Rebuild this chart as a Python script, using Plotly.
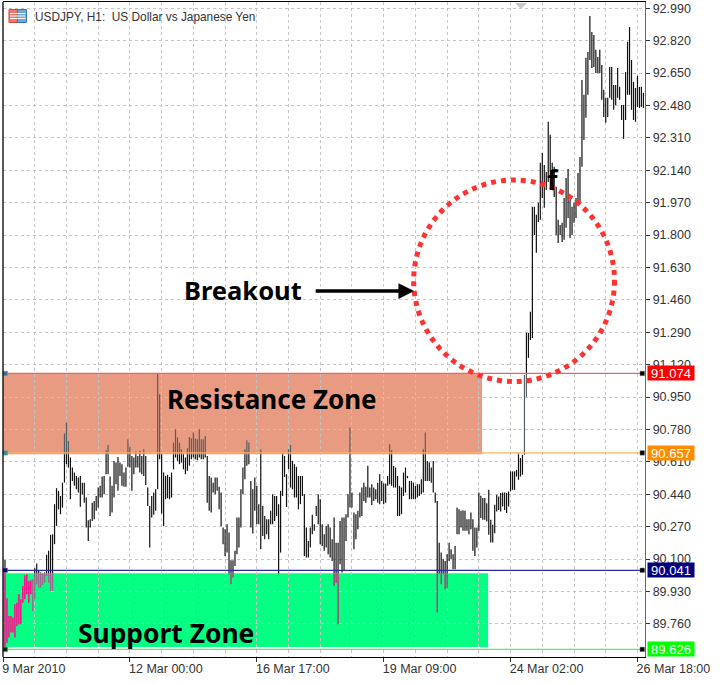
import plotly.graph_objects as go

SYMBOL_TEXT = "USDJPY, H1:\u00a0\u00a0US Dollar vs Japanese Yen"
X_TICK_POS = [0, 64, 128, 192, 256, 320]
X_TICK_TEXT = ["9 Mar 2010", "12 Mar 00:00", "16 Mar 17:00", "19 Mar 09:00", "24 Mar 02:00", "26 Mar 18:00"]
X_GRID_POS = list(range(0, 324, 16))
Y_TICKS = [92.99, 92.82, 92.65, 92.48, 92.31, 92.14, 91.97, 91.80, 91.63, 91.46,
           91.29, 91.12, 90.95, 90.78, 90.61, 90.44, 90.27, 90.10, 89.93, 89.76]

LEVELS = [91.074, 90.657, 90.041, 89.626]
LEVEL_TEXT = ["91.074", "90.657", "90.041", "89.626"]
LEVEL_COLORS = ["#ff0000", "#ff8c00", "#000080", "#00ff00"]
LEVEL_LINES = ["#e8636b", "#ffb060", "#2a2a9c", "#55f055"]
LEFT_MARK = ["#3a6f9c", "#2f8f8f", "#000080", "#003000"]

HIGHS = [
 90.095,89.894,89.801,89.801,89.793,89.863,89.871,89.915,89.889,89.959,
 90.015,90.02,89.985,89.989,89.994,90.052,90.076,90.038,90.029,90.024,
 90.029,90.122,90.143,90.227,90.23,90.388,90.472,90.458,90.431,90.501,
 90.759,90.816,90.72,90.633,90.58,90.554,90.536,90.528,90.536,90.501,
 90.501,90.423,90.304,90.309,90.396,90.405,90.431,90.475,90.484,90.533,
 90.536,90.671,90.699,90.533,90.484,90.615,90.606,90.636,90.606,90.598,
 90.554,90.58,90.729,90.689,90.641,90.633,90.664,90.641,90.668,90.641,
 90.676,90.641,90.475,90.379,90.431,90.449,90.466,91.074,90.965,90.65,
 90.554,90.536,90.542,90.531,90.554,90.711,90.781,90.738,90.711,90.676,
 90.65,90.633,90.682,90.741,90.734,90.764,90.734,90.729,90.781,90.729,
 90.729,90.746,90.641,90.536,90.528,90.501,90.528,90.528,90.479,90.449,
 90.265,90.256,90.283,90.239,90.094,90.094,90.143,90.318,90.318,90.466,
 90.58,90.676,90.724,90.711,90.51,90.466,90.528,90.484,90.388,90.676,
 90.379,90.326,90.309,90.309,90.353,90.44,90.431,90.431,90.388,90.458,
 90.654,90.641,90.545,90.676,90.699,90.615,90.598,90.584,90.536,90.536,
 90.536,90.44,90.265,90.195,90.265,90.332,90.283,90.379,90.44,90.414,
 90.283,90.23,90.274,90.283,90.265,90.204,90.318,90.186,90.186,90.3,
 90.318,90.318,90.335,90.44,90.79,90.449,90.344,90.335,90.353,90.449,
 90.475,90.501,90.479,90.589,90.475,90.493,90.475,90.466,90.501,90.545,
 90.51,90.496,90.496,90.536,90.703,90.671,90.589,90.58,90.536,90.484,
 90.475,90.554,90.58,90.536,90.51,90.51,90.501,90.484,90.493,90.493,
 90.519,90.676,90.764,90.615,90.606,90.58,90.615,90.449,90.405,90.186,
 90.134,90.099,90.09,90.125,90.186,90.151,90.125,90.169,90.37,90.361,
 90.353,90.356,90.353,90.309,90.309,90.344,90.309,90.265,90.265,90.449,
 90.432,90.42,90.42,90.393,90.463,90.306,90.28,90.385,90.437,90.428,
 90.446,90.449,90.449,90.446,90.455,90.56,90.56,90.56,90.568,90.656,
 90.63,90.647,91.066,91.287,91.287,91.397,91.948,91.948,91.906,91.969,
 92.179,92.231,92.168,92.131,92.394,92.326,92.179,92.158,92.053,91.88,
 91.853,91.864,91.995,92.1,92.147,91.985,91.948,91.969,91.995,92.126,
 92.21,92.614,92.536,92.73,92.761,92.95,92.866,92.85,92.772,92.735,
 92.772,92.693,92.562,92.52,92.52,92.682,92.682,92.588,92.588,92.677,
 92.578,92.483,92.483,92.656,92.814,92.892,92.719,92.604,92.572,92.635,
 92.578,92.578,92.546,
]
LOWS = [
 89.635,89.661,89.688,89.714,89.714,89.688,89.749,89.758,89.758,89.871,
 89.889,89.915,89.871,89.915,89.828,89.889,89.968,89.95,89.95,89.964,
 89.976,90.011,89.976,89.933,89.933,90.178,90.274,90.361,90.335,90.37,
 90.501,90.598,90.58,90.414,90.51,90.484,90.466,90.449,90.375,90.44,
 90.396,90.265,90.195,90.265,90.3,90.309,90.353,90.37,90.423,90.423,
 90.44,90.545,90.545,90.326,90.344,90.423,90.493,90.458,90.536,90.484,
 90.479,90.479,90.584,90.58,90.458,90.545,90.58,90.58,90.554,90.545,
 90.536,90.489,90.379,90.16,90.318,90.332,90.353,90.466,90.624,90.339,
 90.274,90.414,90.419,90.414,90.423,90.571,90.633,90.615,90.598,90.606,
 90.571,90.545,90.563,90.589,90.624,90.633,90.624,90.619,90.633,90.624,
 90.624,90.633,90.396,90.353,90.344,90.449,90.44,90.458,90.361,90.274,
 90.178,90.116,90.134,90.02,89.968,90.003,90.064,90.125,90.16,90.265,
 90.44,90.519,90.589,90.598,90.265,90.234,90.353,90.283,90.283,90.151,
 90.221,90.204,90.23,90.204,90.283,90.283,90.3,90.326,90.02,90.134,
 90.431,90.531,90.373,90.571,90.475,90.466,90.423,90.423,90.361,90.388,
 90.431,90.116,90.108,90.108,90.16,90.23,90.248,90.326,90.283,90.178,
 90.169,90.143,90.16,90.125,90.108,90.09,89.959,89.976,89.758,90.073,
 90.029,90.038,90.195,90.318,90.37,90.37,90.151,90.204,90.256,90.318,
 90.326,90.405,90.396,90.423,90.423,90.384,90.405,90.414,90.396,90.388,
 90.405,90.388,90.396,90.484,90.493,90.484,90.475,90.475,90.326,90.326,
 90.335,90.431,90.449,90.524,90.414,90.414,90.414,90.414,90.423,90.431,
 90.44,90.449,90.51,90.51,90.51,90.501,90.449,90.396,89.819,90.02,
 89.968,90.02,89.941,89.95,90.09,90.099,90.046,90.046,90.23,90.23,
 90.265,90.248,90.248,90.248,90.23,90.256,90.143,90.116,90.16,90.248,
 90.315,90.306,90.306,90.297,90.227,90.187,90.187,90.236,90.35,90.358,
 90.35,90.376,90.358,90.341,90.376,90.455,90.463,90.463,90.533,90.516,
 90.533,90.542,90.647,90.951,91.156,91.25,91.26,91.801,91.707,91.869,
 91.88,91.995,91.943,92.037,92.079,92.131,92.037,92.0,91.801,91.759,
 91.801,91.764,91.775,91.838,91.89,91.785,91.801,91.864,91.89,91.969,
 91.974,92.158,92.299,92.415,92.536,92.719,92.677,92.682,92.651,92.651,
 92.651,92.51,92.42,92.389,92.42,92.52,92.51,92.457,92.483,92.52,
 92.51,92.404,92.305,92.404,92.536,92.536,92.457,92.404,92.394,92.473,
 92.467,92.473,92.467,
]

L, R, T, B = 2.5, 645.0, 2.0, 657.0
X_MIN, X_MAX = 0.0, 323.8
Y_MIN, Y_MAX = 89.586, 93.023
def xp(px): return (px - L) / (R - L)
def yp(py): return (B - py) / (B - T)

RES_TOP, RES_BOT = 91.074, 90.650
SUP_TOP, SUP_BOT = 90.025, 89.639
FONT_AXIS = "Liberation Sans"
FONT_BIG = "Noto Sans"

def segments(lo_limit, hi_limit, first=0, last=10**6):
    xs, ys = [], []
    for k, (h, l) in enumerate(zip(HIGHS, LOWS)):
        if k < first or k > last:
            continue
        top, bot = min(h, hi_limit), max(l, lo_limit)
        if top > bot:
            xs += [k + 1, k + 1, None]
            ys += [bot, top, None]
    return xs, ys

fig = go.Figure()
parts = [
    (SUP_TOP, RES_BOT, "#111111", 1.2, 0, 10**6),
    (RES_BOT, RES_TOP, "#555f63", 1.2, 0, 10**6),
    (RES_TOP, 99.0, "#111111", 1.2, 0, 10**6),
    (0.0, SUP_TOP, "#ff0a8c", 1.5, 0, 13),
    (0.0, SUP_TOP, "#96688c", 1.3, 14, 26),
    (0.0, SUP_TOP, "#d0207f", 1.3, 27, 10**6),
]
for lo, hi, col, w, a, b in parts:
    xs, ys = segments(lo, hi, a, b)
    fig.add_trace(go.Scatter(x=xs, y=ys, mode="lines", hoverinfo="skip",
                             line=dict(color=col, width=w)))

for lv, col in zip(LEVELS, LEVEL_LINES):
    fig.add_trace(go.Scatter(x=[X_MIN, X_MAX], y=[lv, lv], mode="lines", hoverinfo="skip",
                             line=dict(color=col, width=1.2)))
fig.add_trace(go.Scatter(x=[322.4] * 4, y=LEVELS, mode="markers", hoverinfo="skip", cliponaxis=False,
                         marker=dict(symbol="square", size=4.5, color="#000000",
                                     line=dict(color="#777777", width=0.5))))
fig.add_trace(go.Scatter(x=[1.2] * 4, y=LEVELS, mode="markers", hoverinfo="skip", cliponaxis=False,
                         marker=dict(symbol="square", size=4.5, color=LEFT_MARK,
                                     line=dict(color="#999999", width=0.5))))

shapes = [
    dict(type="rect", xref="x", yref="y", x0=0, x1=241.6, y0=RES_BOT, y1=RES_TOP, layer="below",
         fillcolor="#E8967A", opacity=0.95, line=dict(width=0)),
    dict(type="rect", xref="x", yref="y", x0=0, x1=244.7, y0=SUP_BOT, y1=SUP_TOP, layer="below",
         fillcolor="#00FF7F", opacity=0.98, line=dict(width=0)),
    dict(type="circle", xref="paper", yref="paper", x0=xp(413.5), x1=xp(614.5), y0=yp(381.5), y1=yp(180),
         line=dict(color="#FF3131", width=5, dash="5px,5px"), layer="above"),
    dict(type="line", xref="paper", yref="paper", x0=0, x1=0, y0=0, y1=1, line=dict(color="#000000", width=1.3)),
    # symbol icon
    dict(type="rect", xref="paper", yref="paper", x0=xp(8.5), x1=xp(17), y0=yp(22.5), y1=yp(9.5),
         fillcolor="#F0786C", line=dict(color="#D9433A", width=1)),
    dict(type="rect", xref="paper", yref="paper", x0=xp(17), x1=xp(26), y0=yp(22.5), y1=yp(9.5),
         fillcolor="#6FA8DC", line=dict(color="#2F78B8", width=1)),
    # chart-shift triangle
    dict(type="path", xref="paper", yref="paper", fillcolor="#C8C8C8", line=dict(width=0),
         path=f"M {xp(515)} {yp(3)} L {xp(527)} {yp(3)} L {xp(521)} {yp(9)} Z"),
]
for py in (13.5, 16, 18.5):
    shapes.append(dict(type="line", xref="paper", yref="paper", x0=xp(9.5), x1=xp(25), y0=yp(py), y1=yp(py),
                       line=dict(color="#FFFFFF", width=1)))

anns = [
    dict(text=SYMBOL_TEXT, xref="paper", yref="paper", x=xp(33), y=yp(17), xanchor="left", yanchor="middle",
         showarrow=False, font=dict(family=FONT_AXIS, size=11.85, color="#333333")),
    dict(text="<b>Breakout</b>", xref="paper", yref="paper", x=xp(182), y=yp(290), xanchor="left", yanchor="middle",
         showarrow=False, font=dict(family=FONT_BIG, size=25.5, color="#000000")),
    dict(text="<b>Resistance Zone</b>", xref="paper", yref="paper", x=xp(165), y=yp(399), xanchor="left", yanchor="middle",
         showarrow=False, font=dict(family=FONT_BIG, size=26, color="#000000")),
    dict(text="<b>Support Zone</b>", xref="paper", yref="paper", x=xp(76), y=yp(633), xanchor="left", yanchor="middle",
         showarrow=False, font=dict(family=FONT_BIG, size=26.4, color="#000000")),
    dict(text="<b>f</b>", xref="paper", yref="paper", x=xp(553), y=yp(179), xanchor="center", yanchor="middle",
         showarrow=False, font=dict(family=FONT_BIG, size=27, color="#000000")),
    dict(text="", xref="paper", yref="paper", x=xp(414), y=yp(291), ax=-100, ay=0, axref="pixel", ayref="pixel",
         showarrow=True, arrowhead=2, arrowsize=0.9, arrowwidth=3.5, arrowcolor="#000000"),
]
for lv, txt, col in zip(LEVELS, LEVEL_TEXT, LEVEL_COLORS):
    anns.append(dict(text=txt, xref="paper", yref="y", x=xp(671), y=lv, xanchor="center", yanchor="middle",
                     showarrow=False, bgcolor=col, width=46, height=14, borderpad=0,
                     font=dict(family=FONT_AXIS, size=13, color="#FFFFFF")))

fig.update_layout(
    width=720, height=685, showlegend=False, paper_bgcolor="#FFFFFF", plot_bgcolor="#FFFFFF",
    margin=dict(l=L, r=720 - R, t=T, b=685 - B, pad=0, autoexpand=False),
    shapes=shapes, annotations=anns,
    xaxis=dict(range=[X_MIN, X_MAX], tickmode="array", tickvals=X_TICK_POS, ticktext=X_TICK_TEXT,
               ticks="outside", ticklen=4, tickcolor="#333333", ticklabelposition="outside right",
               ticklabelshift=-2,
               tickfont=dict(family=FONT_AXIS, size=12.5, color="#333333"),
               showline=True, linecolor="#000000", linewidth=1.3, mirror=True, zeroline=False,
               showgrid=True, gridcolor="#C4C4C4", griddash="3px,3px", gridwidth=1,
               minor=dict(tickmode="array", tickvals=X_GRID_POS, showgrid=True, gridcolor="#C4C4C4",
                          griddash="3px,3px", gridwidth=1, ticklen=0)),
    yaxis=dict(range=[Y_MIN, Y_MAX], side="right", tickmode="array", tickvals=Y_TICKS,
               ticktext=[f"{v:.3f}" for v in Y_TICKS], ticks="outside", ticklen=4, tickcolor="#333333",
               tickfont=dict(family=FONT_AXIS, size=12.5, color="#333333"),
               showline=True, linecolor="#666666", linewidth=1.3, zeroline=False,
               showgrid=True, gridcolor="#C4C4C4", griddash="3px,3px", gridwidth=1),
)

fig.write_html("out.html", config={"displayModeBar": False},
               post_script="document.body.style.margin='0';document.body.style.overflow='hidden';")
